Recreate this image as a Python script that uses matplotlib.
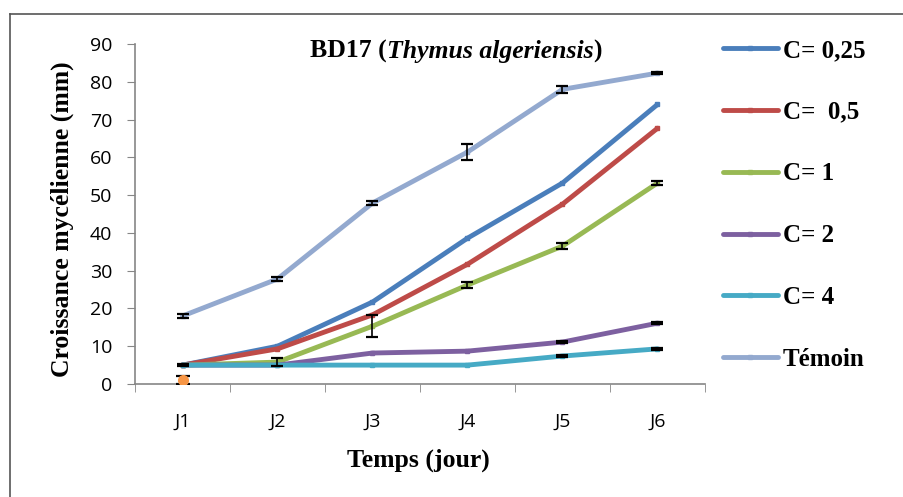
import matplotlib
matplotlib.use("Agg")
import matplotlib.pyplot as plt
from matplotlib.lines import Line2D
import numpy as np

days = ["J1", "J2", "J3", "J4", "J5", "J6"]
labels = ["C= 0,25", "C=  0,5", "C= 1", "C= 2", "C= 4", "Témoin"]
c025 = [5.0, 10.0, 21.7, 38.6, 53.2, 74.0]
c05 = [5.0, 9.3, 18.3, 31.7, 47.6, 67.7]
c1 = [5.0, 5.8, 15.3, 26.2, 36.5, 53.2]
c2 = [5.0, 5.0, 8.2, 8.7, 11.1, 16.1]
c4 = [5.0, 5.0, 5.0, 5.0, 7.4, 9.3]
temoin = [18.0, 27.8, 47.9, 61.4, 78.0, 82.3]
err_c025 = [0.3, 0.0, 0.0, 0.0, 0.0, 0.0]
err_c05 = [0.0, 0.0, 0.0, 0.0, 0.0, 0.0]
err_c1 = [0.0, 1.0, 2.9, 0.8, 0.8, 0.6]
err_c2 = [0.0, 0.0, 0.0, 0.0, 0.3, 0.3]
err_c4 = [0.0, 0.0, 0.0, 0.0, 0.3, 0.3]
err_temoin = [0.5, 0.5, 0.5, 2.0, 1.0, 0.3]
orange_val = [1.1]
orange_err = [1.0]

colors = ["#4A7EBB", "#BE4B48", "#98B954", "#7D60A0", "#46AAC5", "#93A9CF"]
series = [c025, c05, c1, c2, c4, temoin]
errs = [err_c025, err_c05, err_c1, err_c2, err_c4, err_temoin]

fig = plt.figure(figsize=(9.04, 4.97), dpi=100)
ax = fig.add_axes([135/904, 1-384/497, 570/904, 340/497])
x = np.arange(1, len(days)+1)

order = [5, 0, 1, 2, 3, 4]
for i in order:
    ax.plot(x, series[i], color=colors[i], lw=3.5, marker='s', ms=3.0,
            solid_capstyle='round', zorder=3)
    e = np.array(errs[i])
    m = e > 0
    if m.any():
        ax.errorbar(x[m], np.array(series[i])[m], yerr=e[m], fmt='none', ecolor='black',
                    elinewidth=1.2, capsize=4, capthick=1.6, zorder=4)

ax.errorbar([1], orange_val, yerr=orange_err, fmt='o', color='#F79646', ms=7,
            ecolor='black', elinewidth=1.2, capsize=5, capthick=1.6, zorder=5)

ax.set_xlim(0.5, 6.5)
ax.set_ylim(0, 90)
ax.set_yticks(np.arange(0, 91, 10))
ax.set_xticks(x)
ax.set_xticklabels(days)
ax.set_xticks(np.arange(0.5, 6.6, 1), minor=True)
ax.tick_params(axis='x', which='major', length=0, pad=21, labelsize=14)
ax.tick_params(axis='x', which='minor', length=6, color='#868686', direction='out')
ax.tick_params(axis='y', length=6, color='#868686', pad=10.5, labelsize=14)
for lab in ax.get_xticklabels() + ax.get_yticklabels():
    lab.set_fontfamily('Open Sans')
for s in ['top', 'right']:
    ax.spines[s].set_visible(False)
for s in ['left', 'bottom']:
    ax.spines[s].set_color('#868686')
    ax.spines[s].set_linewidth(1.2)

ax.set_ylabel("Croissance mycélienne (mm)", fontfamily='Liberation Serif',
              fontweight='bold', fontsize=18.5, ha='center', va='center')
ax.yaxis.set_label_coords(-0.128, 0.485)
ax.set_xlabel("Temps (jour)", fontfamily='Liberation Serif',
              fontweight='bold', fontsize=18.5, ha='center', va='center')
ax.xaxis.set_label_coords(0.4965, -0.2235)

# Title in pieces, centred at x = 456 px
fig.canvas.draw()
r = fig.canvas.get_renderer()
ybase = 1-58/497
pieces = [("BD17 (", 'normal'), ("Thymus algeriensis", 'italic'), (")", 'normal')]
texts = []
total = 0
for txt, st in pieces:
    t = fig.text(0, ybase, txt, fontfamily='Liberation Serif', fontweight='bold',
                 fontstyle=st, fontsize=18.5, va='baseline', ha='left')
    w = t.get_window_extent(renderer=r).width
    texts.append((t, w))
    total += w
xpos = 456 - total/2
for t, w in texts:
    t.set_x(xpos/904)
    xpos += w

handles = [Line2D([0], [0], color=colors[i], lw=3.5, marker='s', ms=3.0,
                  solid_capstyle='round') for i in range(6)]
leg = fig.legend(handles, labels, loc='upper left', bbox_to_anchor=(713/904, 1-29/497),
                 frameon=False, prop={'family': 'Liberation Serif', 'weight': 'bold', 'size': 18},
                 handlelength=2.2, handletextpad=0.2, labelspacing=1.55, borderaxespad=0)

# outer frame
fig.add_artist(Line2D([10/904, 1], [1-14/497, 1-14/497], color='#555555', lw=1.2,
                      transform=fig.transFigure))
fig.add_artist(Line2D([10/904, 10/904], [0, 1-14/497], color='#555555', lw=1.2,
                      transform=fig.transFigure))

fig.savefig("out.png", dpi=100)
